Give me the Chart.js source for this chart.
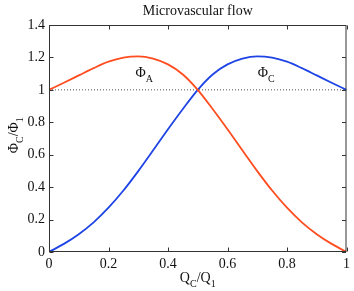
<!DOCTYPE html>
<html>
<head>
<meta charset="utf-8">
<script src="https://cdn.jsdelivr.net/npm/chart.js@4/dist/chart.umd.min.js"></script>
<style>
  html, body { margin: 0; padding: 0; background: #fff; }
</style>
</head>
<body>
<canvas id="chart" width="354" height="291"></canvas>
<script>
// flow fraction Q_C/Q_1 and the two hematocrit ratios
var flowRatio = [0, 0.05, 0.1, 0.15, 0.2, 0.25, 0.3, 0.35, 0.4, 0.45, 0.5,
                 0.55, 0.6, 0.65, 0.7, 0.75, 0.8, 0.85, 0.9, 0.95, 1];
var phiA = [1.0, 1.044, 1.089, 1.134, 1.174, 1.199, 1.207, 1.193, 1.157, 1.095, 1.0,
            0.882, 0.757, 0.627, 0.499, 0.379, 0.273, 0.183, 0.11, 0.05, 0];
var phiC = [0, 0.05, 0.11, 0.183, 0.273, 0.379, 0.499, 0.627, 0.757, 0.882, 1.0,
            1.095, 1.157, 1.193, 1.207, 1.199, 1.174, 1.134, 1.089, 1.044, 1.0];
var refLine = [1, 1];
var refX = [0, 1];
var xTicks = [0, 0.2, 0.4, 0.6, 0.8, 1];
var yTicks = [0, 0.2, 0.4, 0.6, 0.8, 1, 1.2, 1.4];
var chartTitle = 'Microvascular flow';

var serif = '"Liberation Serif", "DejaVu Serif", serif';

function pts(xs, ys) {
  return xs.map(function(x, i) { return { x: x, y: ys[i] }; });
}

function fmt(v) { return String(+(+v).toFixed(1)); }

// text with subscripts: parts = [[text, isSub], ...]
function subText(ctx, parts, x, y) {
  var w = 0;
  parts.forEach(function(p) {
    ctx.font = (p[1] ? '10px ' : '14px ') + serif;
    w += ctx.measureText(p[0]).width;
  });
  var cx = x - w / 2;
  parts.forEach(function(p) {
    ctx.font = (p[1] ? '10px ' : '14px ') + serif;
    ctx.fillText(p[0], cx, y + (p[1] ? 5 : 0));
    cx += ctx.measureText(p[0]).width;
  });
}

var decor = {
  id: 'decor',
  afterDraw: function(chart) {
    var ctx = chart.ctx, a = chart.chartArea;
    var xs = chart.scales.x, ys = chart.scales.y;
    ctx.save();
    ctx.strokeStyle = '#333';
    ctx.lineWidth = 1;
    var L = a.left + 0.5, R = a.right - 0.5, T = a.top + 0.5, B = a.bottom - 0.5;
    ctx.strokeRect(L, T, R - L, B - T);
    ctx.beginPath();
    xTicks.forEach(function(v) {
      var px = Math.round(xs.getPixelForValue(v)) + 0.5;
      ctx.moveTo(px, B); ctx.lineTo(px, B - 4);
      ctx.moveTo(px, T); ctx.lineTo(px, T + 4);
    });
    yTicks.forEach(function(v) {
      var py = Math.round(ys.getPixelForValue(v)) + 0.5;
      ctx.moveTo(L, py); ctx.lineTo(L + 4, py);
      ctx.moveTo(R, py); ctx.lineTo(R - 4, py);
    });
    ctx.stroke();

    ctx.fillStyle = '#111';
    ctx.textBaseline = 'alphabetic';
    ctx.textAlign = 'center';
    ctx.font = '14px ' + serif;
    ctx.fillText(chartTitle, (a.left + a.right) / 2, 15);

    ctx.textAlign = 'left';
    subText(ctx, [['Q', 0], ['C', 1], ['/Q', 0], ['1', 1]], (a.left + a.right) / 2, 282);

    ctx.save();
    ctx.translate(18, ys.getPixelForValue(0.72));
    ctx.rotate(-Math.PI / 2);
    subText(ctx, [['\u03A6', 0], ['C', 1], ['/\u03A6', 0], ['1', 1]], 0, 0);
    ctx.restore();

    subText(ctx, [['\u03A6', 0], ['A', 1]], xs.getPixelForValue(0.32), ys.getPixelForValue(1.08));
    subText(ctx, [['\u03A6', 0], ['C', 1]], xs.getPixelForValue(0.73), ys.getPixelForValue(1.08));
    ctx.restore();
  }
};

new Chart(document.getElementById('chart'), {
  type: 'line',
  data: {
    datasets: [{
      label: 'PhiA',
      data: pts(flowRatio, phiA),
      borderColor: '#ff4d1f',
      borderWidth: 1.8,
      pointRadius: 0,
      cubicInterpolationMode: 'monotone'
    }, {
      label: 'PhiC',
      data: pts(flowRatio, phiC),
      borderColor: '#1f44e6',
      borderWidth: 1.8,
      pointRadius: 0,
      cubicInterpolationMode: 'monotone'
    }, {
      label: 'ref',
      data: pts(refX, refLine),
      borderColor: '#555',
      borderWidth: 1,
      borderDash: [1, 2],
      pointRadius: 0
    }]
  },
  options: {
    responsive: false,
    animation: false,
    layout: { padding: { top: 25, right: 7, left: 0, bottom: 0 } },
    plugins: { legend: { display: false }, tooltip: { enabled: false } },
    scales: {
      x: {
        type: 'linear', min: 0, max: 1,
        afterFit: function(s) { s.height = 39; },
        afterBuildTicks: function(s) { s.ticks = xTicks.map(function(v) { return { value: v }; }); },
        grid: { display: false, drawTicks: false },
        border: { display: false },
        ticks: { color: '#111', padding: 4, maxRotation: 0, font: { family: serif, size: 14 }, callback: fmt }
      },
      y: {
        type: 'linear', min: 0, max: 1.4,
        afterFit: function(s) { s.width = 49; },
        afterBuildTicks: function(s) { s.ticks = yTicks.map(function(v) { return { value: v }; }); },
        grid: { display: false, drawTicks: false },
        border: { display: false },
        ticks: { color: '#111', padding: 4, font: { family: serif, size: 14 }, callback: fmt }
      }
    }
  },
  plugins: [decor]
});
</script>
</body>
</html>
